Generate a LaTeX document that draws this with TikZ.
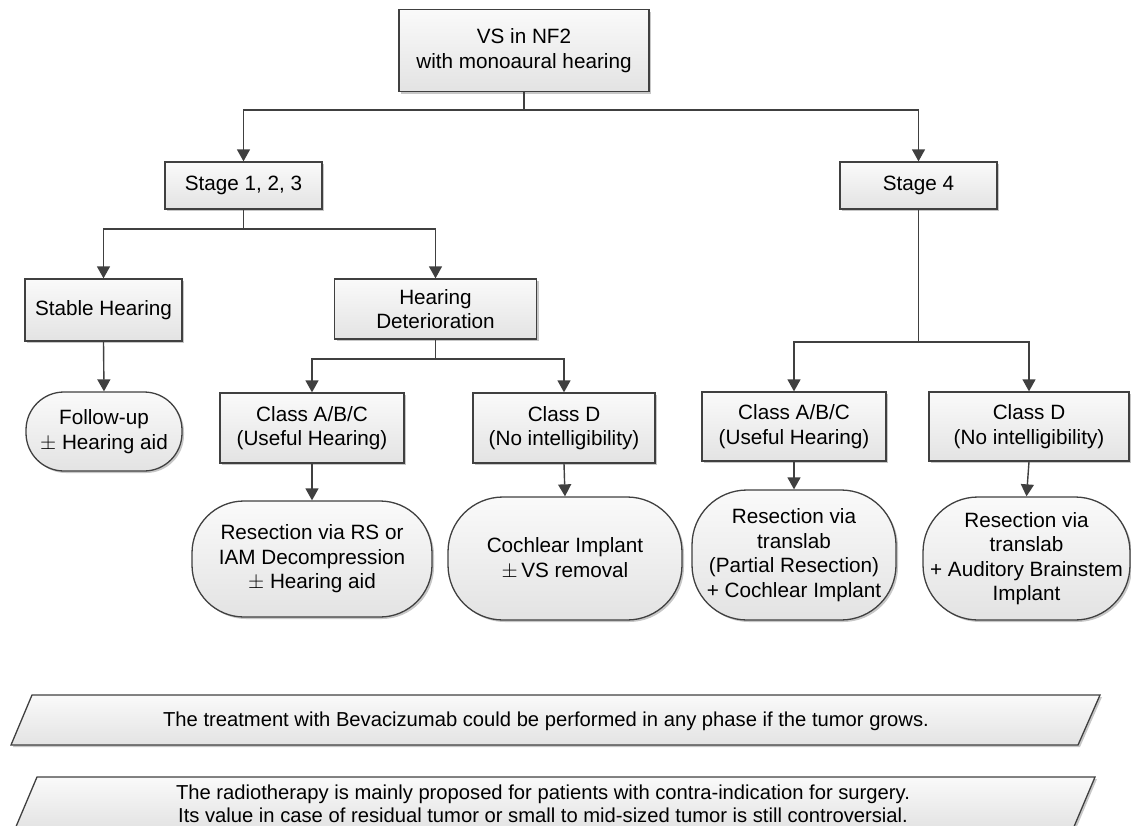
\documentclass[tikz,border=0pt]{standalone}
\usepackage{fontspec}
\setmainfont{Liberation Sans}
\usetikzlibrary{arrows.meta,shadows}
\definecolor{ln}{HTML}{404040}
\tikzset{
  box/.style={draw=ln, line width=1.3pt, top color=gray!4, bottom color=gray!22,
    drop shadow={shadow xshift=2pt,shadow yshift=-2pt,fill=black,opacity=0.22},
    align=center, inner sep=0pt, font=\fontsize{20.7}{24.5}\selectfont},
  rbox/.style={box, rounded corners=#1},
  conn/.style={draw=ln, line width=1.4pt},
  arr/.style={conn, -{Triangle[width=13pt,length=12pt]}},
  note/.style={draw=ln, line width=1.3pt, top color=gray!4, bottom color=gray!22,
    drop shadow={shadow xshift=2pt,shadow yshift=-2pt,fill=black,opacity=0.22}},
  notetext/.style={align=center, inner sep=0pt, font=\fontsize{20.2}{23}\selectfont}
}
\begin{document}
\begin{tikzpicture}[x=1pt,y=-1pt]
\useasboundingbox (0,0) rectangle (1131,825);
% boxes
\node[box, minimum width=250pt, minimum height=82pt] (top) at (524,50.5) {VS in NF2\\with monoaural hearing};
\node[box, minimum width=157pt, minimum height=47pt] (s123) at (243.5,185.5) {Stage 1, 2, 3};
\node[box, minimum width=157pt, minimum height=47pt] (s4) at (918.5,185.5) {Stage 4};
\node[box, minimum width=157pt, minimum height=62pt] (stable) at (103.5,310) {Stable Hearing};
\node[box, minimum width=202pt, minimum height=60pt] (hdet) at (435.5,309) {Hearing\\Deterioration};
\node[box, minimum width=184pt, minimum height=70pt] (cabc1) at (312,428) {Class A/B/C\\(Useful Hearing)};
\node[box, minimum width=182pt, minimum height=70pt] (cd1) at (564,428) {Class D\\(No intelligibility)};
\node[box, minimum width=184pt, minimum height=69pt] (cabc2) at (794,426.5) {Class A/B/C\\(Useful Hearing)};
\node[box, minimum width=200pt, minimum height=69pt] (cd2) at (1029,426.5) {Class D\\(No intelligibility)};
% rounded
\node[rbox=38pt, minimum width=156pt, minimum height=79pt] (fu) at (104,431.5) {Follow-up\\$\pm$ Hearing aid};
\node[rbox=52pt, minimum width=240pt, minimum height=116pt] (rs) at (312,559) {Resection via RS or\\IAM Decompression\\$\pm$ Hearing aid};
\node[rbox=55pt, minimum width=234pt, minimum height=123pt] (ci) at (565,558.5) {Cochlear Implant\\$\pm\,$VS removal};
\node[rbox=55pt, minimum width=204pt, minimum height=130pt] (tl1) at (794,555) {Resection via\\translab\\(Partial Resection)\\+ Cochlear Implant};
\node[rbox=55pt, minimum width=207pt, minimum height=123pt] (tl2) at (1026.5,558.5) {Resection via\\translab\\+ Auditory Brainstem\\Implant};
% junctions
\coordinate (j0) at (524,110);
\coordinate (j1) at (243.5,229);
\coordinate (j2) at (435.5,359);
\coordinate (j3) at (918.5,342);
\draw[conn] (top.south) -- (j0);
\draw[arr] (j0) -| (s123.north);
\draw[arr] (j0) -| (s4.north);
\draw[conn] (s123.south) -- (j1);
\draw[arr] (j1) -| (stable.north);
\draw[arr] (j1) -| (hdet.north);
\draw[conn] (hdet.south) -- (j2);
\draw[arr] (j2) -| (cabc1.north);
\draw[arr] (j2) -| (cd1.north);
\draw[conn] (s4.south) -- (j3);
\draw[arr] (j3) -| (cabc2.north);
\draw[arr] (j3) -| (cd2.north);
\draw[arr] (stable.south) -- (fu.north);
\draw[arr] (cabc1.south) -- (rs.north);
\draw[arr] (cd1.south) -- (ci.north);
\draw[arr] (cabc2.south) -- (tl1.north);
\draw[arr] (cd2.south) -- (tl2.north);
% notes
\path[note] (32,695) -- (1100,695) -- (1078,745) -- (11,745) -- cycle;
\node[notetext] (n1) at (546,721) {The treatment with Bevacizumab could be performed in any phase if the tumor grows.};
\path[note] (37,777) -- (1095,777) -- (1073,829) -- (15,829) -- cycle;
\node[notetext] (n2) at (543,803.5) {The radiotherapy is mainly proposed for patients with contra-indication for surgery.\\Its value in case of residual tumor or small to mid-sized tumor is still controversial.};
\end{tikzpicture}
\end{document}
